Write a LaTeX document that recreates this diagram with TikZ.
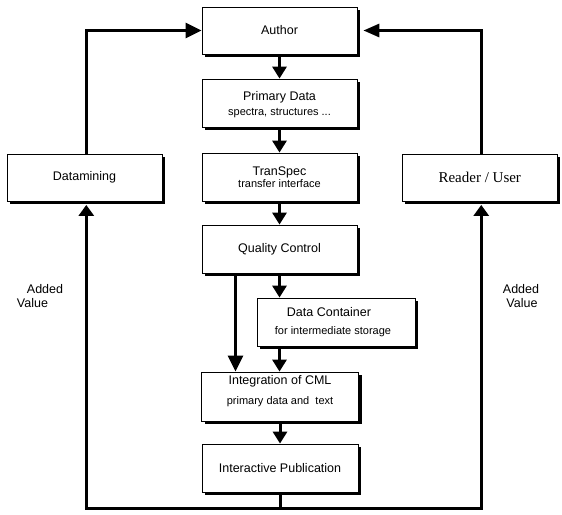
\documentclass[tikz,border=0pt]{standalone}
\usepackage{fontspec}
\setmainfont{Liberation Sans}
\newfontfamily\readerfont{Liberation Serif}
\usetikzlibrary{arrows.meta,shadows}
\newcommand{\mainf}{\fontsize{12.5}{14}\selectfont}
\newcommand{\smallf}{\fontsize{11}{12}\selectfont}
\begin{document}
\begin{tikzpicture}[x=1pt,y=-1pt,
  box/.style={draw,line width=0.8pt,fill=white,inner sep=0pt,align=center,
    font=\mainf,
    drop shadow={shadow xshift=3pt,shadow yshift=-3pt,fill=black,opacity=1}},
  conn/.style={line width=3pt},
  arr/.style={conn,-{Triangle[length=12pt,width=14pt]}},
  bigarr/.style={conn,-{Triangle[length=16pt,width=15pt]}},
  lbl/.style={font=\mainf,inner sep=0pt}
]
\useasboundingbox (0,0) rectangle (562,514);

% boxes
\node[box,minimum width=155pt,minimum height=47pt] (author) at (279.5,30.5) {Author};
\node[box,minimum width=155pt,minimum height=48pt,text depth=-4pt] (primary) at (279.5,103)
  {Primary Data\\[1pt]{\smallf spectra, structures ...}};
\node[box,minimum width=155pt,minimum height=48pt] (transpec) at (279.5,177)
  {TranSpec\\[-2pt]{\smallf transfer interface}};
\node[box,minimum width=155pt,minimum height=48pt] (qc) at (279.5,249) {Quality Control};
\node[box,minimum width=155pt,minimum height=47pt] (datamining) at (84.5,177.5) {Datamining};
\node[box,minimum width=155pt,minimum height=47pt,font=\readerfont\fontsize{15}{17}\selectfont]
  (reader) at (479.75,177.5) {Reader / User};
\node[box,minimum width=158pt,minimum height=48pt] (container) at (336,322)
  {Data Container\hspace*{14pt}\\[4pt]{\smallf for intermediate storage}\hspace*{6pt}};
\node[box,minimum width=157pt,minimum height=49pt,text depth=14pt] (integration) at (280,396.5)
  {Integration of CML\\[6pt]{\smallf primary data and\ \ text}};
\node[box,minimum width=156pt,minimum height=48pt] (interactive) at (280,468) {Interactive Publication};

% side labels
\node[lbl,align=left] (addl) at (40,296) {\hspace*{10pt}Added\\Value};
\node[lbl,align=center] (addr) at (521,296) {Added\\\hspace*{2pt}Value};

% main chain
\draw[arr] (author) -- (primary);
\draw[arr] (primary) -- (transpec);
\draw[arr] (transpec) -- (qc);
\draw[arr] (qc) -- (qc.south |- container.north);
\draw[arr] (container.south -| qc.south) -- (integration.north -| qc.south);
\draw[bigarr] ([xshift=-44pt]qc.south) -- ([xshift=-44pt]qc.south |- integration.north);
\draw[arr] (integration) -- (interactive);

% feedback to author
\coordinate (dmtop) at ([xshift=1.8pt]datamining.north);
\coordinate (rdtop) at ([xshift=1.5pt]reader.north);
\draw[bigarr] (dmtop) |- (author.west);
\draw[conn,-{Triangle[length=16pt,width=13pt]},shorten >=6pt] (rdtop) |- (author.east);

% added value loop
\coordinate (bot) at ([yshift=-16pt]interactive.south);
\coordinate (dmbot) at ([xshift=1.8pt]datamining.south);
\coordinate (rdbot) at ([xshift=1.5pt]reader.south);
\draw[conn] (interactive.south) -- (bot);
\draw[conn,-{Triangle[length=11pt,width=15pt]},shorten >=3.5pt] (bot) -| (dmbot);
\draw[conn,-{Triangle[length=11pt,width=15pt]},shorten >=3.5pt] (bot) -| (rdbot);
\end{tikzpicture}
\end{document}
